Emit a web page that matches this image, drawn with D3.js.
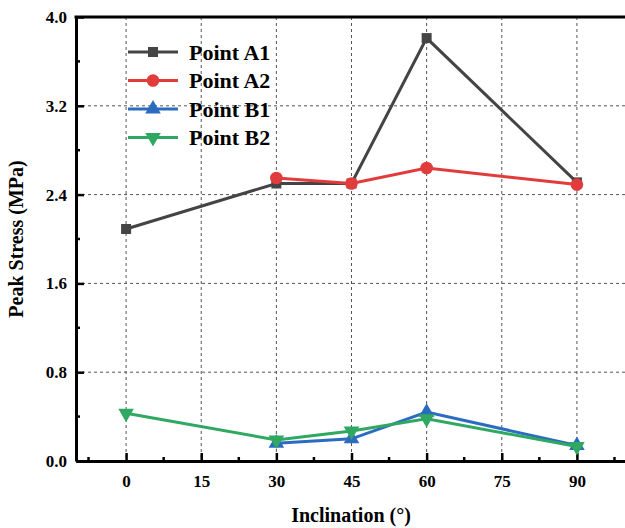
<!DOCTYPE html>
<html>
<head>
<meta charset="utf-8">
<script src="https://cdn.jsdelivr.net/npm/d3@7"></script>
<style>
  body { margin: 0; background: #fff; }
</style>
</head>
<body>
<div id="chart"></div>
<script>
const inclinations = [0, 30, 45, 60, 90]
const pointA1 = [2.09, 2.50, 2.50, 3.81, 2.51]
const pointA2 = [null, 2.55, 2.50, 2.64, 2.49]
const pointB1 = [null, 0.16, 0.20, 0.44, 0.14]
const pointB2 = [0.43, 0.19, 0.27, 0.38, 0.13]
const xTicks = [0, 15, 30, 45, 60, 75, 90]
const yTicks = [0, 0.8, 1.6, 2.4, 3.2, 4.0]

const serif = 'Liberation Serif, Times New Roman, Times, serif'

const series = [
  { name: 'Point A1', values: pointA1, color: '#444444', symbol: d3.symbolSquare, size: 100, rot: 0 },
  { name: 'Point A2', values: pointA2, color: '#e23b3b', symbol: d3.symbolCircle, size: 125, rot: 0 },
  { name: 'Point B1', values: pointB1, color: '#2b6cc0', symbol: d3.symbolTriangle, size: 105, rot: 0 },
  { name: 'Point B2', values: pointB2, color: '#2fa862', symbol: d3.symbolTriangle, size: 105, rot: 180 }
]

const width = 625, height = 528
const margin = { left: 76, top: 17, right: 0, bottom: 67 }

const svg = d3.select('#chart').append('svg')
  .attr('width', width)
  .attr('height', height)
  .attr('font-family', serif)
  .attr('font-weight', 'bold')

const x = d3.scaleLinear().domain([-10, 100]).range([margin.left, 627])
const y = d3.scaleLinear().domain([0, 4]).range([height - margin.bottom, margin.top])

// grid
svg.append('g').selectAll('line').data(xTicks).join('line')
  .attr('x1', d => x(d)).attr('x2', d => x(d))
  .attr('y1', y(4)).attr('y2', y(0))
  .attr('stroke', '#555').attr('stroke-width', 1).attr('stroke-dasharray', '3,3')
svg.append('g').selectAll('line').data(yTicks.slice(1, -1)).join('line')
  .attr('x1', x(-10)).attr('x2', width)
  .attr('y1', d => y(d)).attr('y2', d => y(d))
  .attr('stroke', '#555').attr('stroke-width', 1).attr('stroke-dasharray', '3,3')

// axes
const xAxis = svg.append('g')
  .attr('transform', `translate(0,${y(0)})`)
  .call(d3.axisBottom(x).tickValues(xTicks).tickSizeInner(-8).tickSizeOuter(0).tickPadding(14))
xAxis.append('g').selectAll('line').data(d3.range(-7.5, 100, 15)).join('line')
  .attr('x1', d => x(d)).attr('x2', d => x(d))
  .attr('y1', 0).attr('y2', -4)
  .attr('stroke', '#000').attr('stroke-width', 2.5)

const yAxis = svg.append('g')
  .attr('transform', `translate(${x(-10)},0)`)
  .call(d3.axisLeft(y).tickValues(yTicks).tickFormat(d3.format('.1f')).tickSizeInner(-8).tickSizeOuter(0).tickPadding(9))
yAxis.append('g').selectAll('line').data(d3.range(0.4, 4, 0.8)).join('line')
  .attr('x1', 0).attr('x2', 4)
  .attr('y1', d => y(d)).attr('y2', d => y(d))
  .attr('stroke', '#000').attr('stroke-width', 2.5)

for (const g of [xAxis, yAxis]) {
  g.attr('font-family', serif).attr('font-weight', 'bold').attr('font-size', 17)
  g.select('.domain').attr('stroke-width', 3)
  g.selectAll('.tick line').attr('stroke-width', 2.5)
  g.selectAll('.tick text').attr('fill', '#000')
}

// top border
svg.append('line')
  .attr('x1', x(-10) - 1.5).attr('x2', width)
  .attr('y1', y(4)).attr('y2', y(4))
  .attr('stroke', '#000').attr('stroke-width', 3)

// lines & markers
for (const s of series) {
  const pts = inclinations.map((d, i) => [d, s.values[i]]).filter(p => p[1] != null)
  svg.append('path')
    .attr('d', d3.line().x(p => x(p[0])).y(p => y(p[1]))(pts))
    .attr('fill', 'none').attr('stroke', s.color).attr('stroke-width', 3)
  svg.append('g').selectAll('path').data(pts).join('path')
    .attr('d', d3.symbol().type(s.symbol).size(s.size))
    .attr('transform', p => `translate(${x(p[0])},${y(p[1])}) rotate(${s.rot})`)
    .attr('fill', s.color)
}

// legend
const legend = svg.append('g')
series.forEach((s, i) => {
  const ly = 52 + i * 28.5
  legend.append('line')
    .attr('x1', 128).attr('x2', 178).attr('y1', ly).attr('y2', ly)
    .attr('stroke', s.color).attr('stroke-width', 3)
  legend.append('path')
    .attr('d', d3.symbol().type(s.symbol).size(s.size))
    .attr('transform', `translate(153,${ly}) rotate(${s.rot})`)
    .attr('fill', s.color)
  legend.append('text')
    .attr('x', 189).attr('y', ly).attr('dy', '0.35em')
    .attr('font-size', 22).text(s.name)
})

// axis titles
svg.append('text')
  .attr('x', 351).attr('y', 522).attr('text-anchor', 'middle')
  .attr('font-size', 20).text('Inclination (°)')
svg.append('text')
  .attr('transform', `translate(23,${(y(0) + y(4)) / 2}) rotate(-90)`)
  .attr('text-anchor', 'middle')
  .attr('font-size', 20).text('Peak Stress (MPa)')
</script>
</body>
</html>
